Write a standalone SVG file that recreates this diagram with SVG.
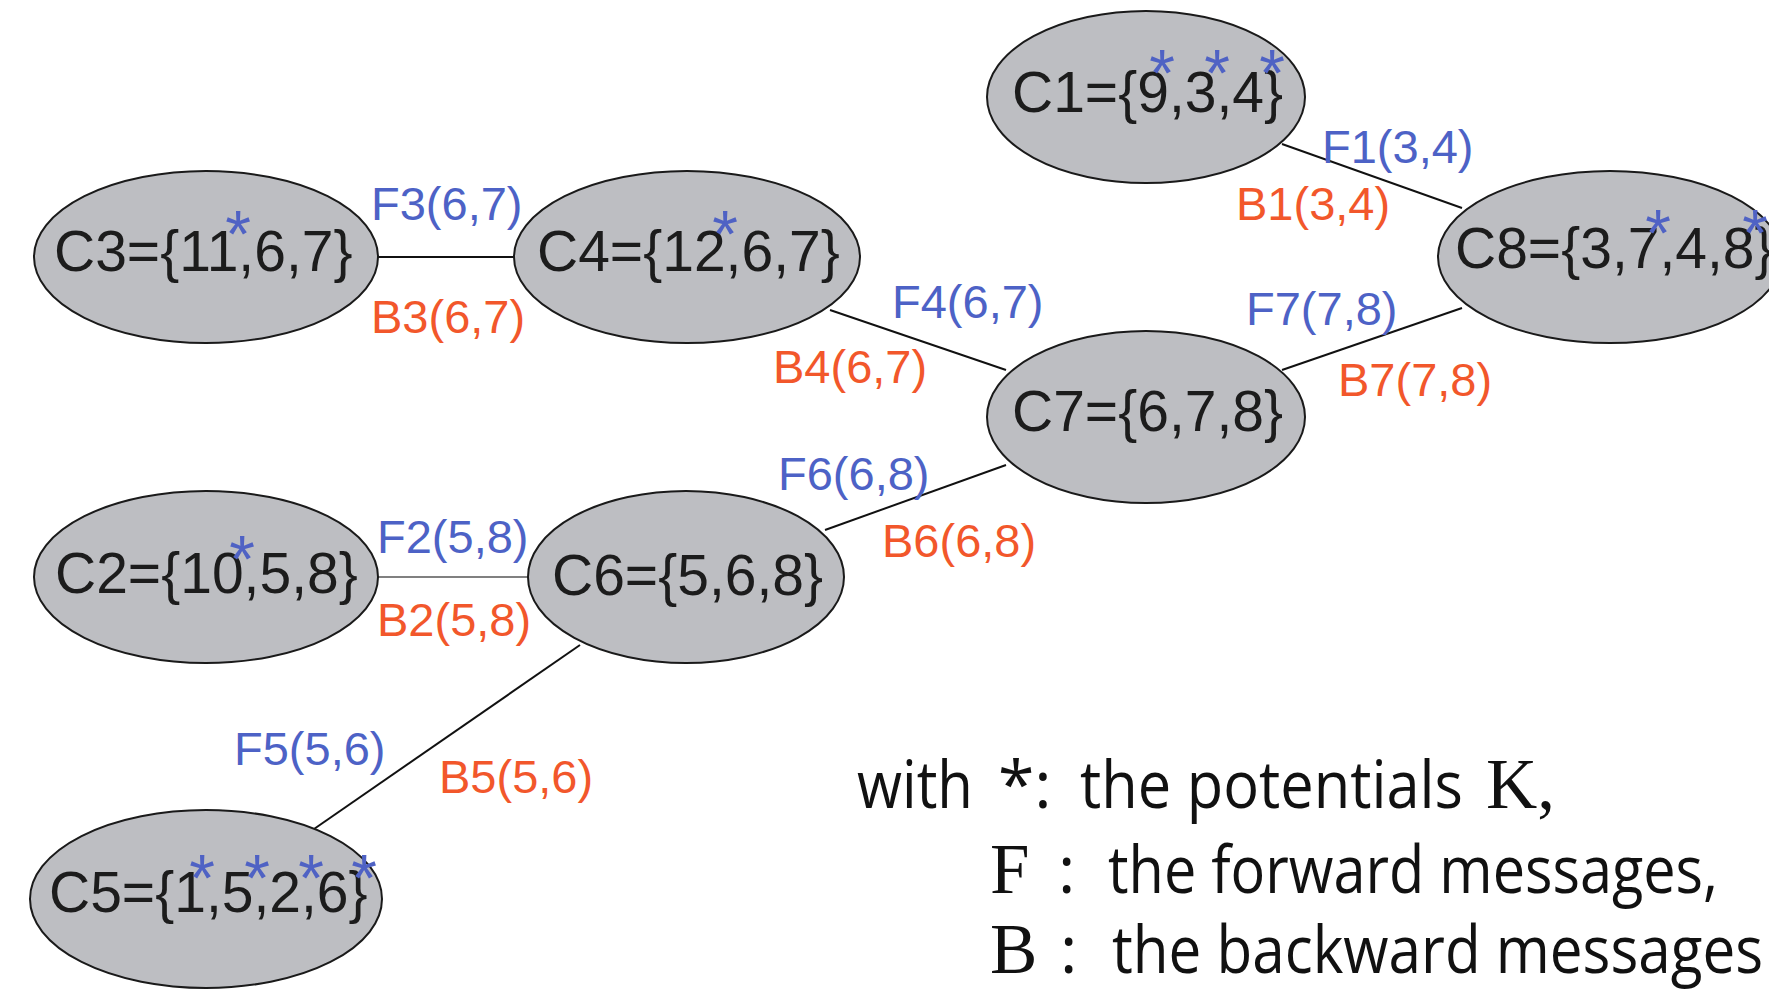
<svg xmlns="http://www.w3.org/2000/svg" width="1769" height="991" viewBox="0 0 1769 991">
  <style>
    .node ellipse { fill: #bdbec2; stroke: #1a1a1a; stroke-width: 2; }
    .lbl { font-family: "Liberation Sans", Arial, sans-serif; font-size: 57px; fill: #1c1c1c; }
    .star { font-family: "Liberation Sans", Arial, sans-serif; font-size: 66px; fill: #4f62c4; text-anchor: middle; }
    .fwd { font-family: "Liberation Sans", Arial, sans-serif; font-size: 47px; fill: #4d62c6; }
    .bwd { font-family: "Liberation Sans", Arial, sans-serif; font-size: 47px; fill: #f2572b; }
    .edge { stroke: #111; stroke-width: 2; fill: none; }
    .edge.light { stroke: #808080; stroke-width: 2; }
    .sans { font-family: "Open Sans", "DejaVu Sans", sans-serif; font-size: 66px; fill: #111; }
    .serif { font-family: "Liberation Serif", "Times New Roman", serif; font-size: 71px; fill: #111; }
  </style>

  <rect width="1769" height="991" fill="#ffffff"/>

  <!-- junction tree edges -->
  <g id="connectors">
    <line class="edge" x1="1282" y1="144" x2="1462" y2="208"/>
    <line class="edge" x1="377" y1="257" x2="514" y2="257"/>
    <line class="edge" x1="830" y1="310" x2="1006" y2="370"/>
    <line class="edge" x1="1282" y1="370" x2="1462" y2="308"/>
    <line class="edge" x1="1006" y1="465" x2="825" y2="530"/>
    <line class="edge light" x1="377" y1="577" x2="528" y2="577"/>
    <line class="edge" x1="580" y1="645" x2="314" y2="829"/>
  </g>

  <!-- message labels -->
  <g id="messages">
    <text class="fwd" x="1322" y="163">F1(3,4)</text>
    <text class="bwd" x="1236" y="220">B1(3,4)</text>
    <text class="fwd" x="371" y="220">F3(6,7)</text>
    <text class="bwd" x="371" y="333">B3(6,7)</text>
    <text class="fwd" x="892" y="318">F4(6,7)</text>
    <text class="bwd" x="773" y="383">B4(6,7)</text>
    <text class="fwd" x="1246" y="325">F7(7,8)</text>
    <text class="bwd" x="1338" y="396">B7(7,8)</text>
    <text class="fwd" x="778" y="490">F6(6,8)</text>
    <text class="bwd" x="882" y="557">B6(6,8)</text>
    <text class="fwd" x="377" y="553">F2(5,8)</text>
    <text class="bwd" x="377" y="636">B2(5,8)</text>
    <text class="fwd" x="234" y="765">F5(5,6)</text>
    <text class="bwd" x="439" y="793">B5(5,6)</text>
  </g>

  <!-- cliques -->
  <g id="C1" class="node">
    <ellipse cx="1146" cy="97" rx="159" ry="86"/>
    <text class="lbl" x="1012" y="112">C1={9,3,4}</text>
    <text class="star" x="1162" y="96">*</text>
    <text class="star" x="1217" y="96">*</text>
    <text class="star" x="1272" y="96">*</text>
  </g>

  <g id="C8" class="node">
    <ellipse cx="1610" cy="257" rx="172" ry="86"/>
    <text class="lbl" x="1455" y="268">C8={3,7,4,8}</text>
    <text class="star" x="1658" y="256">*</text>
    <text class="star" x="1755" y="256">*</text>
  </g>

  <g id="C3" class="node">
    <ellipse cx="206" cy="257" rx="172" ry="86"/>
    <text class="lbl" x="54" y="271">C3={11,6,7}</text>
    <text class="star" x="238" y="257">*</text>
  </g>

  <g id="C4" class="node">
    <ellipse cx="687" cy="257" rx="173" ry="86"/>
    <text class="lbl" x="537" y="271">C4={12,6,7}</text>
    <text class="star" x="725" y="257">*</text>
  </g>

  <g id="C7" class="node">
    <ellipse cx="1146" cy="417" rx="159" ry="86"/>
    <text class="lbl" x="1012" y="431">C7={6,7,8}</text>
  </g>

  <g id="C2" class="node">
    <ellipse cx="206" cy="577" rx="172" ry="86"/>
    <text class="lbl" x="55" y="593">C2={10,5,8}</text>
    <text class="star" x="242" y="582">*</text>
  </g>

  <g id="C6" class="node">
    <ellipse cx="686" cy="577" rx="158" ry="86"/>
    <text class="lbl" x="552" y="595">C6={5,6,8}</text>
  </g>

  <g id="C5" class="node">
    <ellipse cx="206" cy="899" rx="176" ry="89"/>
    <text class="lbl" x="49" y="912">C5={1,5,2,6}</text>
    <text class="star" x="202" y="901">*</text>
    <text class="star" x="257" y="901">*</text>
    <text class="star" x="311" y="901">*</text>
    <text class="star" x="364" y="901">*</text>
  </g>

  <!-- legend -->
  <g id="legend">
    <text class="sans" x="857" y="808" textLength="116" lengthAdjust="spacingAndGlyphs">with</text>
    <text class="sans" x="998" y="808">*:</text>
    <text class="sans" x="1080" y="808" textLength="383" lengthAdjust="spacingAndGlyphs">the potentials</text>
    <text class="serif" x="1486" y="808">K,</text>

    <text class="serif" x="990" y="893">F</text>
    <text class="sans" x="1058" y="893">:</text>
    <text class="sans" x="1108" y="893" textLength="610" lengthAdjust="spacingAndGlyphs">the forward messages,</text>

    <text class="serif" x="990" y="973">B</text>
    <text class="sans" x="1060" y="973">:</text>
    <text class="sans" x="1112" y="973" textLength="651" lengthAdjust="spacingAndGlyphs">the backward messages</text>
  </g>
</svg>
